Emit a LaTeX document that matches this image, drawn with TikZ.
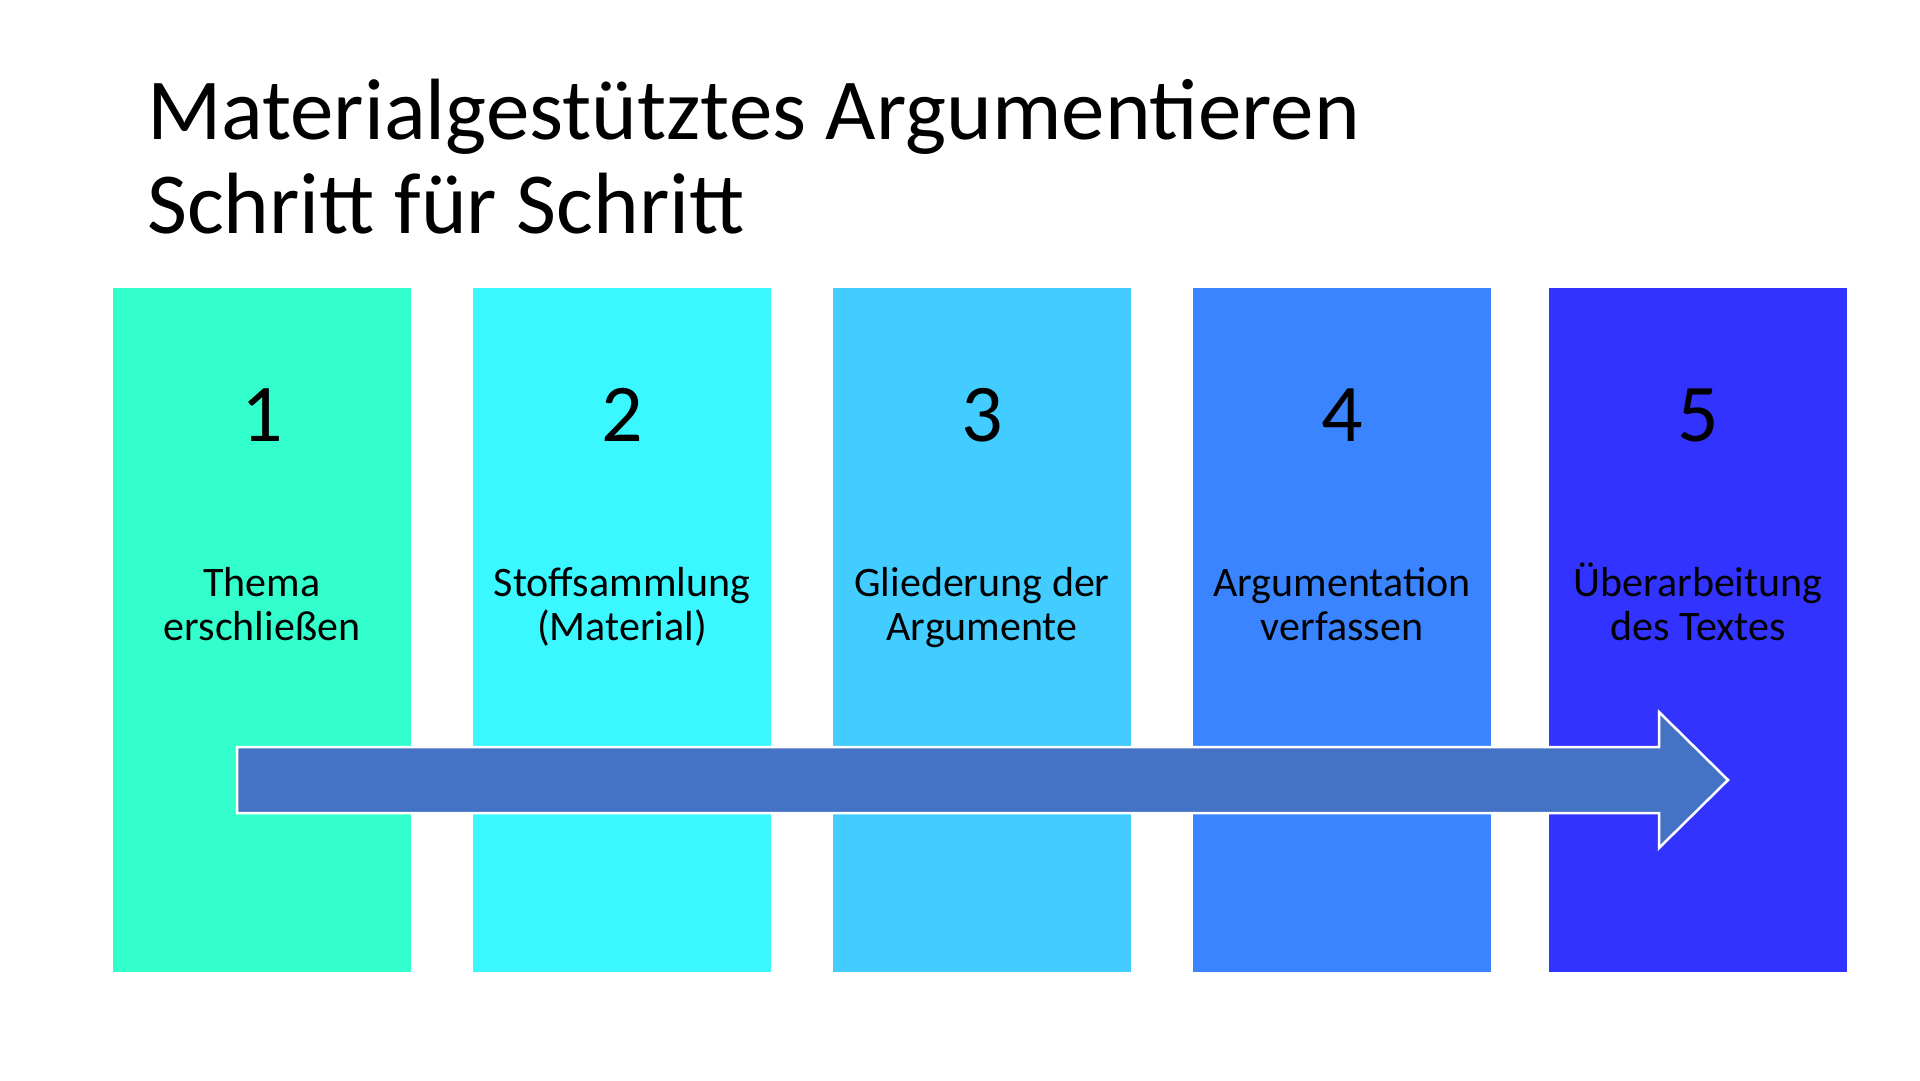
\documentclass[tikz,border=0pt]{standalone}
\usepackage{fontspec}
\setmainfont{Carlito}
\definecolor{cA}{HTML}{33FFCC}
\definecolor{cB}{HTML}{3BF7FF}
\definecolor{cC}{HTML}{42CCFF}
\definecolor{cD}{HTML}{3A85FF}
\definecolor{cE}{HTML}{3333FF}
\definecolor{arrowblue}{HTML}{4472C4}
\tikzset{
  stepbox/.style={rectangle, draw=none, minimum width=298pt, minimum height=684pt, inner sep=0pt},
  stepnum/.style={anchor=base, inner sep=0pt, font=\fontsize{82}{90}\selectfont},
  steplabel/.style={anchor=base, inner sep=0pt, align=center, font=\fontsize{42}{44}\selectfont},
}
\begin{document}
\begin{tikzpicture}[x=1pt,y=-1pt]
\useasboundingbox (0,0) rectangle (1920,1080);
\fill[white] (0,0) rectangle (1920,1080);
% title
\node[anchor=base west, inner sep=0pt, font=\fontsize{87}{100}\selectfont] (title) at (147,139) {Materialgestütztes Argumentieren};
\node[anchor=base west, inner sep=0pt, font=\fontsize{87}{100}\selectfont] (subtitle) at (147,233) {Schritt für Schritt};
% boxes
\node[stepbox, fill=cA] (b1) at (262,630) {};
\node[stepbox, fill=cB] (b2) at (622,630) {};
\node[stepbox, fill=cC] (b3) at (982,630) {};
\node[stepbox, fill=cD] (b4) at (1342,630) {};
\node[stepbox, fill=cE] (b5) at (1698,630) {};
% numbers
\node[stepnum] (n1) at (262,441) {1};
\node[stepnum] (n2) at (622,441) {2};
\node[stepnum] (n3) at (982,441) {3};
\node[stepnum] (n4) at (1342,441) {4};
\node[stepnum] (n5) at (1698,441) {5};
% labels (base anchor = baseline of last line)
\node[steplabel] (l1) at (262,640) {Thema\\erschließen};
\node[steplabel] (l2) at (622,640) {Stoffsammlung\\(Material)};
\node[steplabel] (l3) at (982,640) {Gliederung der\\Argumente};
\node[steplabel] (l4) at (1342,640) {Argumentation\\verfassen};
\node[steplabel] (l5) at (1698,640) {Überarbeitung\\des Textes};
% block arrow
\draw[fill=arrowblue, draw=white, line width=2.5pt, line join=miter]
  (237,747) -- (1659,747) -- (1659,712) -- (1728,780) -- (1659,848) -- (1659,813) -- (237,813) -- cycle;
\end{tikzpicture}
\end{document}
